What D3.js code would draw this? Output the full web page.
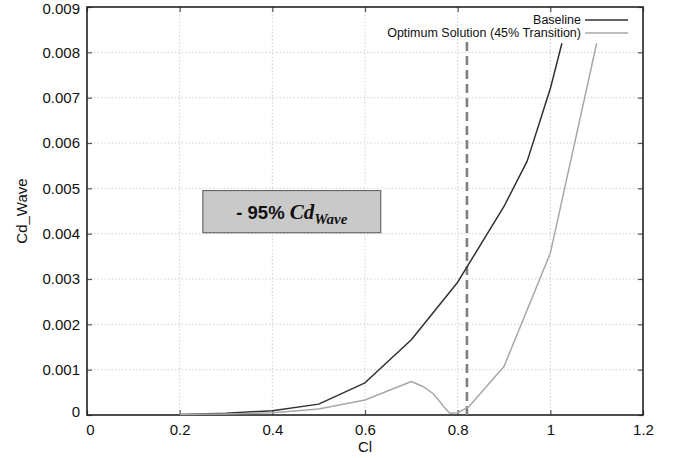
<!DOCTYPE html>
<html>
<head>
<meta charset="utf-8">
<script src="https://cdn.jsdelivr.net/npm/d3@7"></script>
<style>
  body { margin: 0; background: #fff; }
  svg { display: block; }
  text { font-family: "Liberation Sans", Arial, Helvetica, sans-serif; }
</style>
</head>
<body>
<div class="chart"></div>
<script>
// values
const baselineCl = [0.2, 0.3, 0.4, 0.5, 0.6, 0.7, 0.8, 0.9, 0.95, 1.0, 1.025];
const baselineCd = [0.00001, 0.00004, 0.000095, 0.00024, 0.00071, 0.00166, 0.00293, 0.0046, 0.0056, 0.0072, 0.0082];
const optimumCl = [0.2, 0.3, 0.4, 0.5, 0.6, 0.7, 0.725, 0.746, 0.762, 0.77, 0.783, 0.8, 0.824, 0.9, 1.0, 1.1];
const optimumCd = [0.00001, 0.00002, 0.00005, 0.00013, 0.00033, 0.00074, 0.00063, 0.00048, 0.00029, 0.00018, 0.00004, 0.00005, 0.00018, 0.00107, 0.00357, 0.0082];
const xTicks = [0, 0.2, 0.4, 0.6, 0.8, 1, 1.2];
const yTicks = [0, 0.001, 0.002, 0.003, 0.004, 0.005, 0.006, 0.007, 0.008, 0.009];
const seriesNames = ['Baseline', 'Optimum Solution (45% Transition)'];
const seriesColors = ['#303030', '#a8a8a8'];
const transitionCl = 0.82;
const annotBox = {x0: 0.25, x1: 0.634, y0: 0.00402, y1: 0.00495};

const width = 681, height = 458;
const margin = {top: 7, left: 87, right: 38, bottom: 43};

const svg = d3.select('.chart').append('svg')
    .attr('width', width)
    .attr('height', height);

const x = d3.scaleLinear().domain([0, 1.2]).range([margin.left, width - margin.right]);
const y = d3.scaleLinear().domain([0, 0.009]).range([height - margin.bottom, margin.top]);

// grid
const grid = svg.append('g').attr('class', 'grid');
grid.selectAll('.gx')
    .data(xTicks.slice(1, -1))
    .enter().append('line')
    .attr('x1', d => x(d)).attr('x2', d => x(d))
    .attr('y1', y(0)).attr('y2', y(0.009))
    .style('stroke', '#cfcfcf').style('stroke-width', 1)
    .style('stroke-dasharray', '1.5,2');
grid.selectAll('.gy')
    .data(yTicks.slice(1, -1))
    .enter().append('line')
    .attr('y1', d => y(d)).attr('y2', d => y(d))
    .attr('x1', x(0)).attr('x2', x(1.2))
    .style('stroke', '#cfcfcf').style('stroke-width', 1)
    .style('stroke-dasharray', '1.5,2');

// axes with inward ticks
const fmt = d => d === 0 ? '0' : d3.format('~g')(d);
const xAxis = svg.append('g')
    .attr('transform', `translate(0,${y(0)})`)
    .call(d3.axisBottom(x).tickValues(xTicks).tickFormat(fmt).tickSizeInner(-5).tickSizeOuter(0).tickPadding(9));
const xAxisTop = svg.append('g')
    .attr('transform', `translate(0,${y(0.009)})`)
    .call(d3.axisTop(x).tickValues(xTicks).tickFormat('').tickSizeInner(-5).tickSizeOuter(0));
const yAxis = svg.append('g')
    .attr('transform', `translate(${x(0)},0)`)
    .call(d3.axisLeft(y).tickValues(yTicks).tickFormat(d => d === 0 ? '0' : d3.format('.3f')(d)).tickSizeInner(-5).tickSizeOuter(0).tickPadding(7));
const yAxisRight = svg.append('g')
    .attr('transform', `translate(${x(1.2)},0)`)
    .call(d3.axisRight(y).tickValues(yTicks).tickFormat('').tickSizeInner(-5).tickSizeOuter(0));

[xAxis, xAxisTop, yAxis, yAxisRight].forEach(a => {
    a.select('.domain').remove();
    a.selectAll('.tick line').style('stroke', '#555').style('stroke-width', 1.2);
    a.selectAll('text').style('font-size', '15px').style('fill', '#111');
});
xAxis.selectAll('.tick').filter(d => d === 0).select('text').attr('dx', 3);
yAxis.selectAll('.tick').filter(d => d === 0).select('text').attr('dy', '0.1em');
yAxis.selectAll('.tick').filter(d => d === 0.009).select('text').attr('dy', '0.45em');

// frame
svg.append('rect')
    .attr('x', x(0)).attr('y', y(0.009))
    .attr('width', x(1.2) - x(0)).attr('height', y(0) - y(0.009))
    .style('fill', 'none').style('stroke', '#222').style('stroke-width', 1.6);

// axis titles
svg.append('text')
    .attr('x', (x(0) + x(1.2)) / 2).attr('y', 452)
    .attr('text-anchor', 'middle')
    .style('font-size', '15px').style('fill', '#111')
    .text('Cl');
svg.append('text')
    .attr('transform', `translate(27,${(y(0) + y(0.009)) / 2}) rotate(-90)`)
    .attr('text-anchor', 'middle')
    .style('font-size', '15px').style('fill', '#111')
    .text('Cd_Wave');

// annotation box
svg.append('rect')
    .attr('x', x(annotBox.x0)).attr('y', y(annotBox.y1))
    .attr('width', x(annotBox.x1) - x(annotBox.x0))
    .attr('height', y(annotBox.y0) - y(annotBox.y1))
    .style('fill', '#c9c9c9').style('stroke', '#555').style('stroke-width', 1);
const annot = svg.append('text')
    .attr('x', (x(annotBox.x0) + x(annotBox.x1)) / 2)
    .attr('y', (y(annotBox.y0) + y(annotBox.y1)) / 2 + 7)
    .attr('text-anchor', 'middle')
    .style('font-weight', 'bold')
    .style('fill', '#111');
annot.append('tspan')
    .style('font-family', '"Liberation Sans", Arial, sans-serif')
    .style('font-size', '18.5px')
    .text('- 95% ');
annot.append('tspan')
    .style('font-family', '"Liberation Serif", "DejaVu Serif", serif')
    .style('font-style', 'italic').style('font-size', '21px')
    .text('Cd');
annot.append('tspan')
    .style('font-family', '"Liberation Serif", "DejaVu Serif", serif')
    .style('font-style', 'italic').style('font-size', '15px')
    .attr('dy', 5).text('Wave');

// transition line
svg.append('line')
    .attr('x1', x(transitionCl)).attr('x2', x(transitionCl))
    .attr('y1', y(0)).attr('y2', y(0.0083))
    .style('stroke', '#808080').style('stroke-width', 2.6)
    .style('stroke-dasharray', '9,5');

// series
const line = d3.line().x(d => x(d[0])).y(d => y(d[1]));
const series = [
    d3.zip(baselineCl, baselineCd),
    d3.zip(optimumCl, optimumCd)
];
svg.append('g').selectAll('path')
    .data(series)
    .enter().append('path')
    .attr('d', line)
    .style('fill', 'none')
    .style('stroke', (d, i) => seriesColors[i])
    .style('stroke-width', 1.5)
    .style('stroke-linejoin', 'round');

// legend
const legend = svg.append('g').selectAll('g')
    .data(seriesNames)
    .enter().append('g')
    .attr('transform', (d, i) => `translate(0,${20 + i * 13})`);
legend.append('text')
    .attr('x', 581).attr('dy', '0.35em')
    .attr('text-anchor', 'end')
    .style('font-size', '12.5px').style('fill', '#111')
    .text(d => d);
legend.append('line')
    .attr('x1', 585).attr('x2', 628)
    .style('stroke', (d, i) => seriesColors[i])
    .style('stroke-width', 1.5);
</script>
</body>
</html>
